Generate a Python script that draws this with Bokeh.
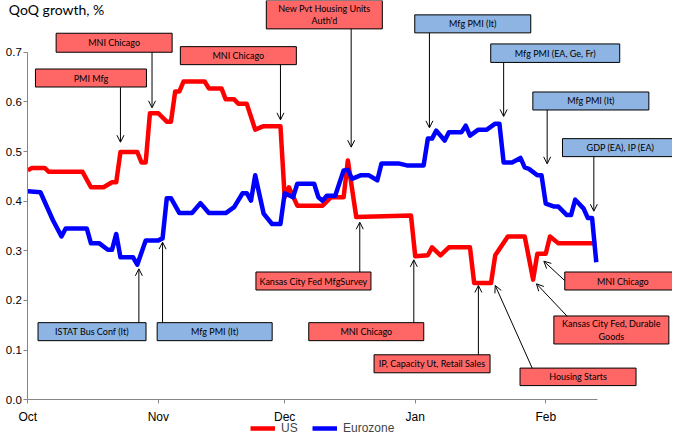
import pandas as pd
from bokeh.plotting import figure
from bokeh.models import (ColumnDataSource, Range1d, FixedTicker, DatetimeTickFormatter,
                          NumeralTickFormatter, Legend, LegendItem, Label, Arrow, OpenHead)
from bokeh.core.properties import value
from bokeh.embed import file_html
from bokeh.resources import INLINE

# QoQ growth nowcast, %
us_dates = ["2013-10-01", "2013-10-02", "2013-10-05", "2013-10-06", "2013-10-14", "2013-10-16",
            "2013-10-19", "2013-10-21", "2013-10-22", "2013-10-23", "2013-10-27", "2013-10-28",
            "2013-10-29", "2013-10-30", "2013-11-01", "2013-11-03", "2013-11-04", "2013-11-05",
            "2013-11-06", "2013-11-07", "2013-11-12", "2013-11-13", "2013-11-16", "2013-11-17",
            "2013-11-19", "2013-11-20", "2013-11-22", "2013-11-24", "2013-11-26", "2013-11-30",
            "2013-12-01", "2013-12-02", "2013-12-04", "2013-12-10", "2013-12-12", "2013-12-15",
            "2013-12-16", "2013-12-18", "2013-12-31", "2014-01-01", "2014-01-04", "2014-01-05",
            "2014-01-07", "2014-01-09", "2014-01-14", "2014-01-15", "2014-01-19", "2014-01-20",
            "2014-01-23", "2014-01-27", "2014-01-29", "2014-01-30", "2014-02-01", "2014-02-02",
            "2014-02-04", "2014-02-13"]
us_values = [0.462, 0.467, 0.467, 0.459, 0.459, 0.428,
             0.428, 0.438, 0.438, 0.499, 0.499, 0.478,
             0.478, 0.577, 0.577, 0.560, 0.560, 0.621,
             0.621, 0.641, 0.641, 0.627, 0.627, 0.605,
             0.605, 0.596, 0.596, 0.544, 0.551, 0.551,
             0.408, 0.428, 0.391, 0.391, 0.408, 0.408,
             0.482, 0.368, 0.371, 0.289, 0.291, 0.307,
             0.291, 0.307, 0.307, 0.235, 0.235, 0.291,
             0.329, 0.329, 0.242, 0.294, 0.294, 0.329,
             0.315, 0.315]

ez_dates = ["2013-10-01", "2013-10-04", "2013-10-07", "2013-10-09", "2013-10-10", "2013-10-15",
            "2013-10-16", "2013-10-18", "2013-10-20", "2013-10-21", "2013-10-22", "2013-10-23",
            "2013-10-26", "2013-10-27", "2013-10-29", "2013-11-01", "2013-11-02", "2013-11-03",
            "2013-11-04", "2013-11-06", "2013-11-09", "2013-11-11", "2013-11-13", "2013-11-17",
            "2013-11-19", "2013-11-21", "2013-11-22", "2013-11-23", "2013-11-24", "2013-11-26",
            "2013-11-28", "2013-11-30", "2013-12-01", "2013-12-03", "2013-12-04", "2013-12-08",
            "2013-12-09", "2013-12-10", "2013-12-11", "2013-12-13", "2013-12-15", "2013-12-16",
            "2013-12-17", "2013-12-19", "2013-12-21", "2013-12-23", "2013-12-24", "2013-12-28",
            "2013-12-30", "2014-01-03", "2014-01-04", "2014-01-05", "2014-01-06", "2014-01-08",
            "2014-01-09", "2014-01-12", "2014-01-13", "2014-01-14", "2014-01-16", "2014-01-18",
            "2014-01-20", "2014-01-21", "2014-01-22", "2014-01-24", "2014-01-26", "2014-01-27",
            "2014-01-28", "2014-01-30", "2014-01-31", "2014-02-01", "2014-02-03", "2014-02-04",
            "2014-02-06", "2014-02-07", "2014-02-08", "2014-02-10", "2014-02-11", "2014-02-12",
            "2014-02-13"]
ez_values = [0.420, 0.418, 0.361, 0.329, 0.345, 0.345,
             0.315, 0.315, 0.302, 0.302, 0.334, 0.287,
             0.287, 0.272, 0.321, 0.321, 0.325, 0.406,
             0.406, 0.376, 0.376, 0.396, 0.376, 0.376,
             0.388, 0.416, 0.416, 0.401, 0.452, 0.375,
             0.354, 0.354, 0.416, 0.408, 0.435, 0.435,
             0.408, 0.401, 0.411, 0.411, 0.462, 0.463,
             0.445, 0.452, 0.452, 0.442, 0.476, 0.476,
             0.472, 0.472, 0.526, 0.526, 0.542, 0.522,
             0.539, 0.539, 0.552, 0.532, 0.544, 0.544,
             0.556, 0.556, 0.478, 0.478, 0.487, 0.468,
             0.465, 0.452, 0.452, 0.395, 0.389, 0.389,
             0.372, 0.372, 0.403, 0.385, 0.366, 0.366,
             0.277]

month_ticks = ["2013-10-01", "2013-11-01", "2013-12-01", "2014-01-01", "2014-02-01"]
y_ticks = [0.0, 0.1, 0.2, 0.3, 0.4, 0.5, 0.6, 0.7]

# callouts: text, series, box centre (date, value), box w/h in px, arrow start, arrow end
callouts = [
    ("PMI Mfg", "us", "2013-10-16", 0.648, 111, 18, "2013-10-23", 0.6295, "2013-10-23", 0.5187),
    ("MNI Chicago", "us", "2013-10-21 12:00", 0.719, 116, 19, "2013-10-30 12:00", 0.700, "2013-10-30 12:00", 0.588),
    ("MNI Chicago", "us", "2013-11-20", 0.693, 116, 18, "2013-11-30", 0.6746, "2013-11-30", 0.5638),
    ("New Pvt Housing Units\nAuth'd", "us", "2013-12-10 10:00", 0.7756, 116, 28.5, "2013-12-16 19:00", 0.747, "2013-12-16 19:00", 0.5087),
    ("Mfg PMI (It)", "ez", "2014-01-14 16:00", 0.757, 116, 18, "2014-01-04 09:00", 0.739, "2014-01-04 09:00", 0.5477),
    ("Mfg PMI (EA, Ge, Fr)", "ez", "2014-02-03 06:00", 0.698, 129, 18.5, "2014-01-22", 0.6798, "2014-01-22", 0.5705),
    ("Mfg PMI (It)", "ez", "2014-02-11 17:00", 0.6017, 116, 18, "2014-02-01 08:00", 0.584, "2014-02-01 08:00", 0.4752),
    ("GDP (EA), IP (EA)", "ez", "2014-02-18 18:00", 0.5078, 116, 18, "2014-02-12 10:00", 0.4899, "2014-02-12 10:00", 0.3798),
    ("ISTAT Bus Conf (It)", "ez", "2013-10-16 06:00", 0.1372, 108, 18, "2013-10-27 09:00", 0.155, "2013-10-27 09:00", 0.2638),
    ("Mfg PMI (It)", "ez", "2013-11-14 09:00", 0.1372, 115, 18, "2013-11-02", 0.155, "2013-11-02", 0.3174),
    ("Kansas City Fed MfgSurvey", "us", "2013-12-07 20:00", 0.2392, 115, 18, "2013-12-18 20:00", 0.257, "2013-12-18 20:00", 0.3576),
    ("MNI Chicago", "us", "2013-12-20 09:00", 0.1372, 115, 18, "2013-12-31 16:00", 0.155, "2013-12-31 16:00", 0.2819),
    ("IP, Capacity Ut, Retail Sales", "us", "2014-01-05", 0.0725, 116, 18, "2014-01-16", 0.0906, "2014-01-16", 0.2302),
    ("Housing Starts", "us", "2014-02-08 16:00", 0.0462, 116, 17.5, "2014-01-28 19:00", 0.0636, "2014-01-20", 0.2302),
    ("Kansas City Fed, Durable\nGoods", "us", "2014-02-16 14:00", 0.1406, 115, 28, "2014-02-06 02:00", 0.1683, "2014-01-29 19:00", 0.2336),
    ("MNI Chicago", "us", "2014-02-19 07:00", 0.2392, 116, 18, "2014-02-05 12:00", 0.2402, "2014-01-31 13:00", 0.2791),
]

US_RED = "#ff0000"
EZ_BLUE = "#0000ff"
BOX_FILL = {"us": "#ff6666", "ez": "#8db4e2"}
AXIS_GREY = "#868686"

W, H = 672, 435
ORIGIN_X, ORIGIN_Y = 27.3, 399.3   # pixel position of (1 Oct, 0.0)
PX_PER_DAY = 4.211
PX_PER_UNIT = 496.6
DAY_MS = 86400000


def ms(s):
    return pd.Timestamp(s).value / 1e6


x0 = ms("2013-10-01")
x_start = x0 - ORIGIN_X / PX_PER_DAY * DAY_MS
x_end = x_start + W / PX_PER_DAY * DAY_MS
y_start = -(H - ORIGIN_Y) / PX_PER_UNIT
y_end = y_start + H / PX_PER_UNIT

p = figure(width=W, height=H, x_axis_type="datetime",
           x_range=Range1d(x_start, x_end), y_range=Range1d(y_start, y_end),
           output_backend="svg", toolbar_location=None,
           min_border=0)
p.outline_line_color = None
p.grid.grid_line_color = None

# axes drawn at Oct 1 / 0.0 inside the plot area
p.xaxis.fixed_location = 0
p.yaxis.fixed_location = x0
p.xaxis.ticker = FixedTicker(ticks=[ms(t) for t in month_ticks])
p.xaxis.formatter = DatetimeTickFormatter(days="%b", months="%b", years="%b")
p.xaxis.bounds = (x0, ms("2014-02-13 06:00"))
p.yaxis.ticker = FixedTicker(ticks=y_ticks)
p.yaxis.formatter = NumeralTickFormatter(format="0.0")
p.yaxis.bounds = (0, 0.7)
for ax in (p.xaxis, p.yaxis):
    ax.axis_line_color = AXIS_GREY
    ax.major_tick_line_color = AXIS_GREY
    ax.minor_tick_line_color = None
    ax.major_tick_in = 0
    ax.major_tick_out = 4
    ax.major_label_text_font = "Liberation Sans"
    ax.major_label_text_color = "black"
p.xaxis.major_label_text_font_size = "12px"
p.xaxis.major_label_standoff = 6
p.yaxis.major_label_text_font_size = "11.5px"
p.yaxis.major_label_standoff = 2

# series
us_src = ColumnDataSource(dict(x=pd.to_datetime(us_dates), y=us_values))
ez_src = ColumnDataSource(dict(x=pd.to_datetime(ez_dates), y=ez_values))
r_us = p.line("x", "y", source=us_src, line_color=US_RED, line_width=4.5, line_join="round")
r_ez = p.line("x", "y", source=ez_src, line_color=EZ_BLUE, line_width=4.5, line_join="round")

# callout arrows and boxes
box_src = ColumnDataSource(dict(
    x=[ms(c[2]) for c in callouts], y=[c[3] for c in callouts],
    w=[c[4] for c in callouts], h=[c[5] for c in callouts],
    fill=[BOX_FILL[c[1]] for c in callouts], label=[c[0] for c in callouts]))
arrow_src = ColumnDataSource(dict(
    x0=[ms(c[6]) for c in callouts], y0=[c[7] for c in callouts],
    x1=[ms(c[8]) for c in callouts], y1=[c[9] for c in callouts]))
p.add_layout(Arrow(end=OpenHead(size=7, line_width=1, line_color="black"),
                   x_start="x0", y_start="y0", x_end="x1", y_end="y1",
                   line_color="black", line_width=1, source=arrow_src))
p.rect(x="x", y="y", width="w", height="h", width_units="screen", height_units="screen",
       fill_color="fill", line_color="black", line_width=1, source=box_src)
p.text(x="x", y="y", text="label", source=box_src, text_align="center",
       text_baseline="middle", text_font=value("Lato"), text_font_size="9px",
       text_color="black", text_line_height=1.1)

# title
p.add_layout(Label(x=x0 - 4.5 * DAY_MS, y=0.785, text="QoQ growth, %", text_font="Lato",
                   text_font_size="14px", text_baseline="middle", text_color="black"))

legend = Legend(items=[LegendItem(label="US", renderers=[r_us]),
                       LegendItem(label="Eurozone", renderers=[r_ez])],
                orientation="horizontal", location=(250, 0), padding=0, margin=0,
                spacing=11, glyph_width=25, glyph_height=12, label_standoff=6,
                label_text_font="Liberation Sans", label_text_font_size="12px",
                border_line_color=None, background_fill_alpha=0)
p.add_layout(legend)

open("out.html", "w").write(file_html(p, INLINE))
